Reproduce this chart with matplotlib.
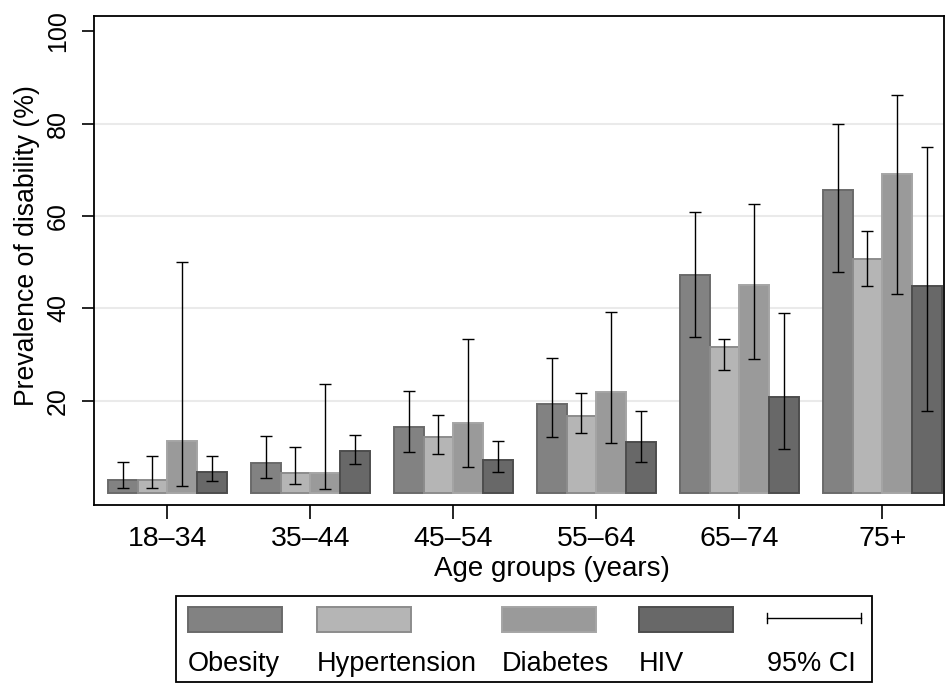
import matplotlib
matplotlib.use("Agg")
import matplotlib.pyplot as plt
from matplotlib.patches import Rectangle
import numpy as np

plt.rcParams['font.family'] = ['Liberation Sans', 'DejaVu Sans']

age_groups = ["18–34", "35–44", "45–54", "55–64", "65–74", "75+"]
series = ["Obesity", "Hypertension", "Diabetes", "HIV"]

obesity = [2.8, 6.6, 14.3, 19.3, 47.2, 65.7]
obesity_lo = [1.0, 3.3, 8.8, 12.2, 33.9, 47.9]
obesity_hi = [6.7, 12.3, 22.2, 29.3, 60.8, 80.0]

hypertension = [2.8, 4.4, 12.1, 16.6, 31.6, 50.7]
hypertension_lo = [1.0, 2.0, 8.4, 13.0, 26.6, 44.8]
hypertension_hi = [8.0, 10.0, 17.0, 21.7, 33.4, 56.8]

diabetes = [11.3, 4.3, 15.1, 21.9, 45.0, 69.0]
diabetes_lo = [1.5, 0.8, 5.7, 10.9, 29.0, 43.2]
diabetes_hi = [50.0, 23.7, 33.4, 39.3, 62.7, 86.2]

hiv = [4.6, 9.2, 7.2, 11.0, 20.7, 44.8]
hiv_lo = [2.7, 6.4, 4.5, 6.7, 9.6, 17.8]
hiv_hi = [8.0, 12.6, 11.3, 17.8, 39.0, 74.9]

yticks = [20, 40, 60, 80, 100]

values = [obesity, hypertension, diabetes, hiv]
lows = [obesity_lo, hypertension_lo, diabetes_lo, hiv_lo]
highs = [obesity_hi, hypertension_hi, diabetes_hi, hiv_hi]
faces = ["#828282", "#b5b5b5", "#9a9a9a", "#686868"]
edges = ["#6a6a6a", "#8c8c8c", "#a5a5a5", "#4d4d4d"]

W, H = 946, 683
fig = plt.figure(figsize=(W / 100, H / 100), dpi=100)
ax = fig.add_axes([94 / W, 1 - 505 / H, (944 - 94) / W, (505 - 16) / H])

x = np.arange(len(age_groups))
bw = 0.208
for i, (v, lo, hi) in enumerate(zip(values, lows, highs)):
    pos = x + (i - 1.5) * bw
    v = np.array(v)
    ax.bar(pos, v, width=bw, color=faces[i], edgecolor=edges[i], linewidth=1.4, zorder=2)
    yerr = np.vstack([v - np.array(lo), np.array(hi) - v])
    ax.errorbar(pos, v, yerr=yerr, fmt='none', ecolor='black', elinewidth=1.0,
                capsize=4.5, capthick=1.0, zorder=3)

ax.set_xlim(-0.5126, 5.431)
ax.set_ylim(-2.58, 103.3)
ax.set_yticks(yticks)
ax.set_yticklabels([str(t) for t in yticks], rotation=90, va='center', fontsize=18)
ax.set_xticks(x)
ax.set_xticklabels(age_groups, fontsize=20.5)
for t in [20, 40, 60, 80]:
    ax.axhline(t, color='#eaeaea', linewidth=1.5, zorder=0)
ax.tick_params(axis='x', length=10, width=1.2, pad=5, color='black')
ax.tick_params(axis='y', length=8.6, width=1.2, pad=8.6, color='black')
for s in ax.spines.values():
    s.set_linewidth(1.3)
    s.set_color('black')

ax.set_ylabel("Prevalence of disability (%)", fontsize=19.2)
ax.yaxis.set_label_coords(-0.0635, 0.53)
ax.set_xlabel("Age groups (years)", fontsize=20)
ax.xaxis.set_label_coords(0.539, -0.104)

# Legend box
lx0, lx1, ly0, ly1 = 176, 872, 596, 682
lax = fig.add_axes([lx0 / W, 1 - ly1 / H, (lx1 - lx0) / W, (ly1 - ly0) / H])
lax.set_xlim(0, lx1 - lx0)
lax.set_ylim(ly1 - ly0, 0)
lax.axis('off')
lax.add_patch(Rectangle((0, 0), lx1 - lx0, ly1 - ly0, fill=False, edgecolor='black',
                        linewidth=1.3, clip_on=False))
col_x = [188, 317, 502, 639, 767]
labels = series + ["95% CI"]
for j, cx in enumerate(col_x):
    xx = cx - lx0
    if j < 4:
        lax.add_patch(Rectangle((xx, 606.7 - ly0), 94, 25.6, facecolor=faces[j],
                                edgecolor=edges[j], linewidth=1.4))
    else:
        yy = 618.3 - ly0
        lax.plot([xx, xx + 94], [yy, yy], color='black', linewidth=1.0)
        lax.plot([xx, xx], [yy - 5, yy + 5], color='black', linewidth=1.0)
        lax.plot([xx + 94, xx + 94], [yy - 5, yy + 5], color='black', linewidth=1.0)
    lax.text(xx, 671 - ly0, labels[j], fontsize=19.5, va='baseline', ha='left')

fig.savefig("out.png", dpi=100)
